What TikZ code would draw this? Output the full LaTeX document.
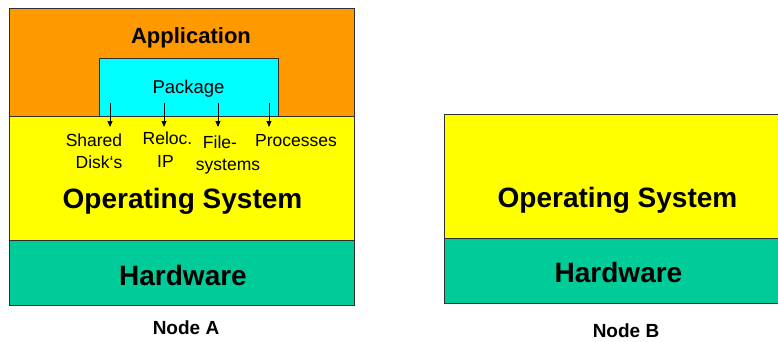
\documentclass[tikz,border=0pt]{standalone}
\usepackage{fontspec}
\setmainfont{Liberation Sans}
\usetikzlibrary{arrows.meta}
\definecolor{apporange}{HTML}{FF9900}
\definecolor{pkgcyan}{HTML}{00FFFF}
\definecolor{osyellow}{HTML}{FFFF00}
\definecolor{hwgreen}{HTML}{00CC99}
\definecolor{edge}{HTML}{303030}
\begin{document}
\begin{tikzpicture}[x=1pt,y=-1pt,
  layer/.style={draw=edge, line width=0.8pt, inner sep=0pt, outer sep=0pt,
                anchor=north west},
  bigtext/.style={font=\bfseries\fontsize{28}{30}\selectfont, anchor=base},
  apptext/.style={font=\bfseries\fontsize{22}{24}\selectfont, anchor=base},
  pkgtext/.style={font=\fontsize{18.5}{20}\selectfont, anchor=base},
  restext/.style={font=\fontsize{17.5}{19}\selectfont, anchor=base, inner sep=0pt},
  captext/.style={font=\bfseries\fontsize{19}{21}\selectfont, anchor=base},
  resarrow/.style={line width=0.8pt, -{Triangle[length=6pt,width=5pt]}}]
\useasboundingbox (0,0) rectangle (778,341);
\fill[white] (0,0) rectangle (778,341);

% Node A: application stack
\node[layer, fill=apporange, minimum width=345pt, minimum height=108pt] (appA) at (9,8) {};
\node[layer, fill=osyellow, minimum width=345pt, minimum height=124pt] (osA) at (9,116) {};
\node[layer, fill=hwgreen, minimum width=345pt, minimum height=65pt] (hwA) at (9,240) {};
\node[layer, fill=pkgcyan, minimum width=179pt, minimum height=58pt] (pkg) at (99,58) {};

\node[apptext] (appT) at (191,43) {Application};
\node[pkgtext] (pkgT) at (188.5,93) {Package};

% resources controlled by the package
\foreach \n/\x in {1/110,2/164,3/218,4/269}{
  \coordinate (s\n) at (\x,103);
  \coordinate (e\n) at (\x,127);
  \draw[resarrow] (s\n) -- (e\n);
}
\node[restext] (sharedA) at (94,146) {Shared};
\node[restext] (sharedB) at (99,168) {Disk‘s};
\node[restext] (relocA) at (167.5,144) {Reloc.};
\node[restext] (relocB) at (165.5,167) {IP};
\node[restext] (fsA) at (220,148) {File-};
\node[restext] (fsB) at (228,170) {systems};
\node[restext] (procA) at (296,146) {Processes};

\node[bigtext] (osAT) at (182.5,208) {Operating System};
\node[bigtext] (hwAT) at (183,285) {Hardware};
\node[captext] (capA) at (186,334) {Node A};

% Node B: bare stack
\node[layer, fill=osyellow, minimum width=345pt, minimum height=124pt] (osB) at (444,114) {};
\node[layer, fill=hwgreen, minimum width=345pt, minimum height=65pt] (hwB) at (444,238) {};
\node[bigtext] (osBT) at (617.5,207) {Operating System};
\node[bigtext] (hwBT) at (618.5,282) {Hardware};
\node[captext] (capB) at (626,337) {Node B};
\end{tikzpicture}
\end{document}
